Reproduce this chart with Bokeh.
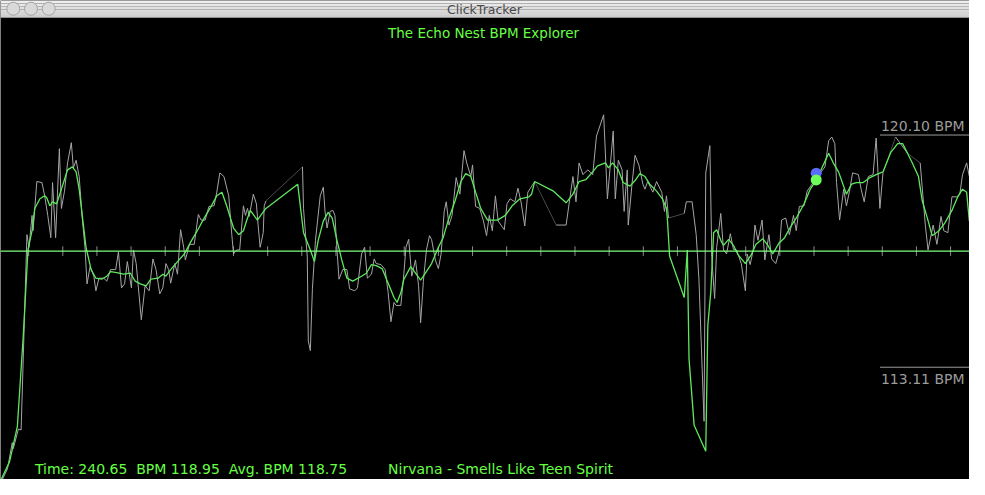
from bokeh.plotting import figure
from bokeh.models import Range1d, Span, Label, BoxAnnotation
from bokeh.embed import file_html
from bokeh.resources import INLINE

# ---------------- data ----------------
window_title = "ClickTracker"
chart_title = "The Echo Nest BPM Explorer"
song_name = "Nirvana - Smells Like Teen Spirit"
current_time = 240.65
current_bpm = 118.95
average_bpm = 118.75
upper_bpm = 120.10
lower_bpm = 113.11
tick_times = list(range(10, 290, 10))

# raw per-beat BPM (time s, bpm)
raw_points = [
    (2.3, 109.73), (3.8, 110.05), (5.2, 110.84), (5.5, 110.66), (7.0, 111.25), (7.8, 111.22),
    (9.5, 117.10), (10.1, 116.72), (11.0, 117.68), (11.3, 117.22), (12.4, 118.70), (13.9, 118.67),
    (14.7, 118.27), (15.6, 117.68), (16.5, 117.01), (17.0, 118.67), (17.9, 117.01), (19.0, 119.69),
    (19.6, 117.89), (20.5, 118.41), (21.4, 119.26), (22.5, 119.87), (23.1, 119.11), (23.9, 119.34),
    (24.8, 118.85), (25.7, 117.60), (26.5, 116.72), (27.1, 115.62), (28.0, 116.14), (29.1, 115.85),
    (29.7, 115.41), (30.6, 115.79), (32.0, 115.79), (32.9, 115.70), (34.0, 116.05), (35.5, 116.05),
    (36.3, 116.58), (37.2, 115.50), (38.1, 115.62), (38.9, 116.29), (40.1, 115.50), (40.7, 116.64),
    (41.5, 116.23), (43.0, 114.54), (44.1, 115.56), (45.3, 115.41), (46.4, 116.37), (47.3, 116.05),
    (48.4, 115.32), (49.3, 115.50), (50.2, 116.23), (51.0, 116.05), (51.6, 115.64), (52.8, 116.23),
    (53.6, 115.91), (54.5, 117.25), (55.4, 116.72), (55.9, 116.34), (57.1, 116.81), (58.5, 116.81),
    (59.7, 117.71), (60.5, 117.54), (61.7, 117.54), (62.8, 117.95), (64.3, 117.97), (65.1, 118.38),
    (66.0, 118.96), (67.2, 118.85), (68.6, 118.27), (69.5, 117.10), (70.0, 116.52), (70.9, 116.64),
    (71.8, 116.64), (72.9, 117.97), (73.5, 117.68), (74.1, 117.89), (74.6, 117.65), (75.8, 118.32),
    (76.7, 118.03), (77.2, 117.39), (77.8, 116.72), (78.7, 117.16), (79.0, 117.97), (79.5, 118.12),
    (90.2, 119.14), (90.5, 117.89), (91.6, 116.43), (91.9, 113.90), (92.5, 113.61), (93.1, 115.47),
    (94.0, 116.93), (95.4, 118.27), (96.3, 118.53), (96.8, 117.80), (97.4, 117.30), (98.3, 117.80),
    (99.1, 117.83), (99.7, 117.68), (100.3, 116.64), (100.9, 115.76), (102.0, 116.05), (103.2, 116.05),
    (104.0, 115.47), (105.5, 115.41), (106.3, 115.50), (107.5, 116.52), (108.4, 116.72), (109.2, 115.79),
    (110.4, 115.91), (111.2, 116.37), (111.8, 116.23), (113.2, 116.20), (114.4, 116.05), (115.3, 115.35),
    (116.1, 114.48), (117.0, 115.06), (117.6, 114.97), (119.0, 114.97), (119.9, 115.94), (120.5, 116.72),
    (121.3, 116.96), (122.2, 115.85), (123.3, 116.34), (124.2, 115.56), (124.8, 114.45), (125.6, 115.70),
    (126.5, 116.64), (127.4, 117.07), (128.0, 116.96), (129.1, 116.34), (130.0, 116.08), (130.8, 116.52),
    (131.7, 117.80), (132.3, 118.09), (133.1, 117.39), (134.0, 117.68), (135.2, 118.82), (136.3, 118.32),
    (137.5, 119.63), (138.3, 119.26), (139.5, 118.85), (140.0, 119.20), (140.9, 117.95), (142.1, 117.89),
    (143.2, 117.51), (144.1, 117.07), (144.9, 117.68), (145.8, 117.22), (146.7, 118.27), (147.5, 117.51),
    (149.3, 117.25), (150.1, 118.03), (151.0, 118.18), (152.4, 118.09), (153.3, 118.50), (154.2, 118.09),
    (155.3, 117.36), (156.2, 118.38), (158.2, 118.70), (164.5, 117.39), (167.4, 117.39), (169.4, 118.85),
    (170.3, 118.09), (171.2, 119.26), (172.3, 118.91), (173.8, 119.05), (175.2, 118.91), (176.3, 120.07),
    (178.4, 120.71), (179.5, 118.18), (181.2, 120.22), (181.8, 118.18), (182.7, 119.34), (183.8, 119.05),
    (184.4, 117.80), (185.3, 119.05), (185.6, 117.39), (186.7, 118.62), (187.6, 119.49), (188.7, 119.20),
    (189.9, 118.62), (190.5, 118.47), (191.3, 118.70), (192.8, 118.38), (193.9, 118.70), (195.4, 118.38),
    (196.2, 117.80), (196.8, 118.27), (197.4, 117.60), (202.0, 117.74), (202.6, 118.09), (204.3, 118.09),
    (205.5, 117.10), (206.3, 115.76), (207.8, 111.48), (208.3, 118.96), (209.5, 119.78), (210.1, 116.34),
    (210.9, 115.18), (211.5, 116.72), (212.7, 117.74), (213.5, 116.64), (214.4, 116.52), (215.5, 117.13),
    (216.4, 116.66), (217.3, 116.64), (218.7, 116.23), (219.9, 115.41), (220.4, 116.52), (221.3, 116.20),
    (222.2, 116.64), (222.7, 117.39), (223.6, 116.93), (224.8, 117.54), (225.6, 116.34), (226.8, 117.10),
    (227.6, 116.37), (228.8, 116.23), (229.9, 116.64), (230.5, 117.54), (231.7, 117.60), (232.8, 117.10),
    (234.0, 117.68), (234.8, 117.22), (235.7, 117.95), (237.1, 117.97), (238.0, 118.41), (239.4, 118.62),
    (241.5, 118.91), (243.2, 119.14), (244.3, 119.93), (245.2, 120.04), (246.1, 119.84), (246.6, 118.67),
    (247.5, 117.54), (248.7, 118.47), (249.5, 117.97), (250.4, 118.41), (251.3, 118.96), (253.0, 118.91),
    (253.8, 118.47), (254.7, 118.09), (255.9, 118.85), (257.3, 118.91), (258.2, 120.01), (259.3, 117.89),
    (260.2, 118.96), (263.9, 120.04), (267.4, 119.55), (271.1, 119.26), (272.6, 117.39), (273.4, 116.64),
    (274.9, 117.39), (276.0, 116.81), (277.2, 117.65), (278.0, 117.22), (279.2, 117.16), (280.4, 118.24),
    (281.8, 118.24), (282.7, 118.32), (283.5, 118.91), (284.7, 119.26), (285.5, 118.85),
]

# smoothed BPM
smooth_t = [
    1.8, 4.4, 6.7, 8.4, 9.8, 11.0, 11.8, 13.3, 14.7, 15.3,
    16.2, 17.0, 18.2, 19.6, 20.5, 21.4, 22.8, 23.9, 24.8, 25.7,
    26.8, 28.3, 29.7, 31.4, 32.9, 34.0, 35.8, 37.8, 39.8, 41.2,
    42.7, 44.4, 45.8, 47.9, 49.3, 50.2, 51.6, 53.6, 55.6, 57.4,
    59.4, 61.4, 63.1, 65.1, 66.6, 68.0, 70.0, 71.5, 72.9, 73.8,
    74.9, 77.0, 78.4, 79.5, 88.8, 90.5, 92.5, 93.7, 94.8, 96.3,
    97.7, 98.9, 100.3, 101.7, 103.2, 104.9, 107.5, 108.9, 110.4, 111.8,
    113.5, 115.6, 117.0, 117.9, 119.0, 119.9, 121.9, 123.3, 124.8, 126.2,
    128.0, 130.0, 131.4, 132.8, 134.9, 136.6, 138.0, 139.5, 140.9, 142.4,
    144.4, 147.3, 149.6, 151.6, 153.9, 156.5, 157.3, 158.2, 163.7, 167.4,
    169.4, 171.2, 173.2, 175.2, 176.6, 178.9, 179.8, 181.0, 182.7, 184.1,
    186.1, 187.6, 189.0, 190.5, 191.9, 193.9, 195.6, 196.8, 197.1, 197.7,
    202.0, 202.9, 203.4, 204.9, 208.3, 208.9, 209.8, 210.6, 211.5, 212.7,
    213.5, 215.0, 216.4, 217.8, 219.9, 221.6, 223.0, 225.0, 226.5, 227.9,
    229.7, 231.4, 233.1, 235.1, 237.1, 238.9, 240.6, 242.3, 244.3, 245.8,
    247.2, 249.5, 251.0, 252.4, 254.4, 256.4, 258.2, 260.2, 262.5, 264.5,
    266.0, 268.8, 270.6, 271.7, 273.2, 274.6, 276.6, 278.3, 280.4, 282.1,
    283.5, 284.7, 285.5,
]
smooth_bpm = [
    109.70, 110.26, 111.33, 114.01, 116.64, 117.22, 117.89, 118.18, 118.27, 118.21,
    117.97, 118.09, 118.03, 118.47, 118.76, 119.05, 119.14, 118.99, 118.47, 117.68,
    116.72, 116.05, 115.79, 115.76, 115.85, 115.99, 115.96, 115.91, 115.94, 115.70,
    115.62, 115.56, 115.76, 115.79, 115.91, 115.85, 116.05, 116.29, 116.52, 116.87,
    117.22, 117.60, 117.89, 118.27, 118.38, 117.97, 117.30, 117.10, 117.22, 117.51,
    117.83, 117.54, 117.74, 117.89, 118.62, 117.16, 116.64, 116.29, 116.93, 117.51,
    117.77, 117.60, 116.93, 116.34, 115.79, 115.70, 115.85, 115.94, 116.20, 116.17,
    116.08, 115.56, 115.21, 115.06, 115.35, 115.76, 116.14, 115.94, 115.73, 115.94,
    116.23, 116.72, 117.01, 117.51, 118.12, 118.70, 118.94, 118.85, 118.38, 117.89,
    117.54, 117.54, 117.68, 117.97, 118.18, 118.24, 118.32, 118.70, 118.41, 118.06,
    118.32, 118.70, 118.76, 118.99, 119.17, 119.26, 119.11, 119.26, 119.05, 118.67,
    118.56, 118.73, 118.94, 118.85, 118.62, 118.41, 118.18, 117.89, 117.51, 116.46,
    115.21, 116.64, 113.37, 111.36, 110.58, 114.36, 115.41, 117.16, 117.25, 116.93,
    116.78, 116.96, 116.78, 116.49, 116.23, 116.49, 116.81, 116.98, 116.78, 116.52,
    116.84, 117.01, 117.33, 117.65, 118.03, 118.47, 118.73, 119.11, 119.55, 119.23,
    118.99, 118.32, 118.62, 118.67, 118.67, 118.82, 118.91, 118.99, 119.58, 119.84,
    119.84, 119.26, 118.85, 118.12, 117.60, 117.07, 117.22, 117.45, 117.83, 118.24,
    118.47, 118.38, 117.51,
]

# ---------------- layout ----------------
REF_W, REF_H = 985, 495
W, H = 969, 479
SX, SY = W / REF_W, H / REF_H
T0, T1 = 1.76, 285.54          # visible time window (s)
B0, B1 = 109.73, 124.15        # visible bpm window (incl. window title bar)


def ref_y(px):
    """reference pixel row (from top) -> bpm units"""
    return B1 - px * (B1 - B0) / REF_H


def ref_x(px):
    return T0 + px * (T1 - T0) / REF_W


def sx(px):
    return px * SX


def sy(px):
    return H - px * SY


p = figure(width=W, height=H, x_range=Range1d(T0, T1), y_range=Range1d(B0, B1),
           output_backend="svg", toolbar_location=None, min_border=0,
           x_axis_location=None, y_axis_location=None,
           background_fill_color="black", border_fill_color="black",
           outline_line_color=None)
p.grid.visible = False

# window title bar (gradient bands)
bar_rows = [0, 3, 6, 9, 12, 15, 17, 18]
bar_cols = ["#eeeeee", "#e8e8e8", "#e1e1e1", "#dadada", "#d4d4d4", "#cecece", "#8e8e8e"]
for i, c in enumerate(bar_cols):
    p.add_layout(BoxAnnotation(top=ref_y(bar_rows[i]), bottom=ref_y(bar_rows[i + 1]),
                               fill_color=c, fill_alpha=1.0, line_color=None, level="underlay"))
# window buttons (decoration)
p.scatter(x=[ref_x(13), ref_x(31), ref_x(49)], y=[ref_y(8.5)] * 3, size=13,
          fill_color="#d9d9d9", line_color="#a4a4a4", line_width=1)
p.add_layout(Label(x=sx(492), y=sy(9), x_units="screen", y_units="screen", text=window_title,
                   text_font="DejaVu Sans", text_font_size="12.5px", text_color="#4a4a4a",
                   text_align="center", text_baseline="middle"))

# centre line and time ticks
centre = (upper_bpm + lower_bpm) / 2
p.add_layout(Span(location=centre, dimension="width", line_color="#7dff7d", line_width=1.3))
half = 5 * (B1 - B0) / REF_H
p.segment(x0=tick_times, x1=tick_times, y0=[centre - half] * len(tick_times),
          y1=[centre + half] * len(tick_times), line_color="#8a8a8a", line_width=1)

# raw BPM line (long gaps drawn darker)
rt = [a for a, _ in raw_points]
rb = [b for _, b in raw_points]
seg_cols = ["#4a4a4a" if (rt[i + 1] - rt[i]) > 3.5 else "#a6a6a6" for i in range(len(rt) - 1)]
p.segment(x0=rt[:-1], y0=rb[:-1], x1=rt[1:], y1=rb[1:], line_color=seg_cols, line_width=1)

# smoothed BPM line
p.line(smooth_t, smooth_bpm, line_color="#5fe85f", line_width=1.3)

# current position markers
p.scatter(x=[current_time], y=[current_bpm], size=11, fill_color="#5b6bff", line_color=None)
p.scatter(x=[current_time], y=[average_bpm], size=11, fill_color="#6cff5a", line_color=None)

# upper / lower reference marks
p.segment(x0=[ref_x(894)] * 2, x1=[T1] * 2, y0=[upper_bpm, lower_bpm], y1=[upper_bpm, lower_bpm],
          line_color="#9a9a9a", line_width=1)
grey_font = dict(text_font="DejaVu Sans", text_font_size="14px", text_color="#9c9c9c",
                 text_baseline="middle", x_units="screen", y_units="screen")
p.add_layout(Label(x=sx(895), y=sy(129.5), text=f"{upper_bpm:.2f} BPM", **grey_font))
p.add_layout(Label(x=sx(895), y=sy(391.5), text=f"{lower_bpm:.2f} BPM", **grey_font))

green_font = dict(text_font="DejaVu Sans", text_color="#66ff44",
                  text_baseline="middle", x_units="screen", y_units="screen")
p.add_layout(Label(x=sx(491), y=sy(34), text=chart_title, text_align="center",
                   text_font_size="13.5px", **green_font))
gap = "\u00a0\u00a0"
status = f"Time: {current_time:.2f}{gap}BPM {current_bpm:.2f}{gap}Avg. BPM {average_bpm:.2f}"
p.add_layout(Label(x=sx(35), y=sy(484), text=status, text_font_size="14px", **green_font))
p.add_layout(Label(x=sx(394), y=sy(484), text=song_name, text_font_size="14px", **green_font))

open("out.html", "w").write(file_html(p, INLINE))
